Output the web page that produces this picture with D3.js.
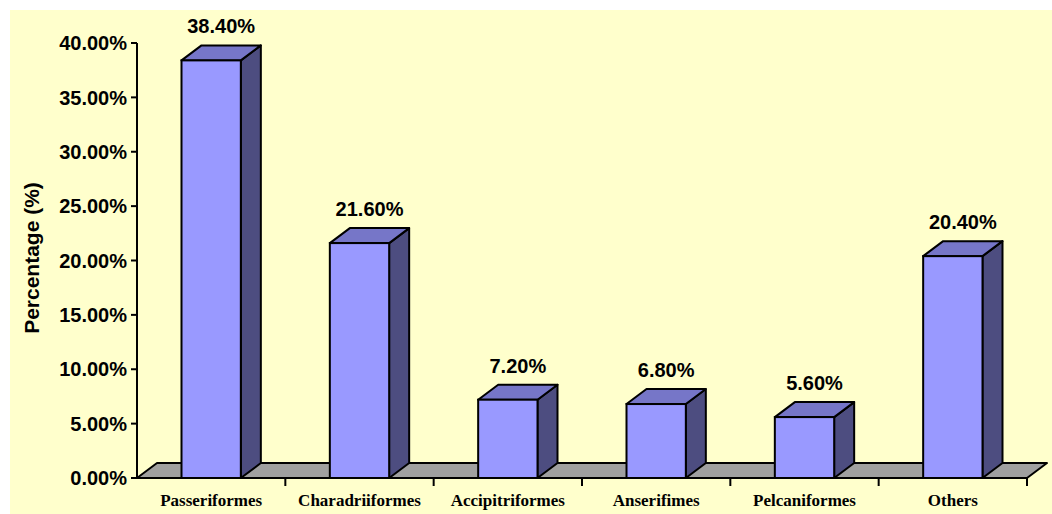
<!DOCTYPE html>
<html>
<head>
<meta charset="utf-8">
<script src="https://cdn.jsdelivr.net/npm/d3@7"></script>
<style>
  body { margin: 0; background: #fff; }
  .tick-label { font-family: Arial, "Liberation Sans", sans-serif; font-weight: bold; font-size: 20px; fill: #000; }
  .axis-title { font-family: Arial, "Liberation Sans", sans-serif; font-weight: bold; font-size: 21px; fill: #000; }
  .cat-label { font-family: "Times New Roman", "Liberation Serif", serif; font-weight: bold; font-size: 17px; fill: #000; }
</style>
</head>
<body>
<div id="chart"></div>
<script>
const categories = ["Passeriformes", "Charadriiformes", "Accipitriformes", "Anserifimes", "Pelcaniformes", "Others"];
const values = [38.4, 21.6, 7.2, 6.8, 5.6, 20.4];
const yTicks = [0, 5, 10, 15, 20, 25, 30, 35, 40];

const width = 1052, height = 514;
const plotLeft = 137, plotRight = 1027, plotBottom = 478, plotTop = 43;
const dx = 20, dy = -15; // 3d depth offset

const svg = d3.select("#chart").append("svg")
    .attr("width", width).attr("height", height);

svg.append("rect")
    .attr("x", 10).attr("y", 10)
    .attr("width", width - 10).attr("height", height - 10)
    .attr("fill", "#ffffcc");

const x = d3.scaleBand().domain(categories).range([plotLeft, plotRight])
    .paddingInner(0.6).paddingOuter(0.3);
const y = d3.scaleLinear().domain([0, 40]).range([plotBottom, plotTop]);
const step = x.step();

// floor
svg.append("path")
    .attr("d", `M${plotLeft},${plotBottom} L${plotRight},${plotBottom} L${plotRight + dx},${plotBottom + dy} L${plotLeft + dx},${plotBottom + dy} Z`)
    .attr("fill", "#a0a0a0").attr("stroke", "#000").attr("stroke-width", 2)
    .attr("stroke-linejoin", "round");

// y axis
const yAxis = svg.append("g");
yAxis.append("line")
    .attr("x1", plotLeft).attr("x2", plotLeft).attr("y1", plotTop).attr("y2", plotBottom)
    .attr("stroke", "#000").attr("stroke-width", 2);
yAxis.selectAll(".yt").data(yTicks).enter().append("line")
    .attr("x1", plotLeft - 6).attr("x2", plotLeft)
    .attr("y1", d => y(d)).attr("y2", d => y(d))
    .attr("stroke", "#000").attr("stroke-width", 2);
yAxis.selectAll(".tick-label").data(yTicks).enter().append("text")
    .attr("class", "tick-label")
    .attr("x", plotLeft - 10).attr("y", d => y(d)).attr("dy", "0.36em")
    .attr("text-anchor", "end")
    .text(d => d.toFixed(2) + "%");

svg.append("text")
    .attr("class", "axis-title")
    .attr("transform", "translate(39,258) rotate(-90)")
    .attr("text-anchor", "middle")
    .text("Percentage (%)");

// x axis ticks at category boundaries
svg.selectAll(".xt").data(d3.range(1, categories.length + 1)).enter().append("line")
    .attr("x1", i => plotLeft + i * step).attr("x2", i => plotLeft + i * step)
    .attr("y1", plotBottom).attr("y2", plotBottom + 8)
    .attr("stroke", "#000").attr("stroke-width", 2);
svg.append("line")
    .attr("x1", plotLeft).attr("x2", plotRight).attr("y1", plotBottom).attr("y2", plotBottom)
    .attr("stroke", "#000").attr("stroke-width", 2);

// bars
const bars = svg.selectAll(".bar").data(categories.map((c, i) => ({c, v: values[i]})))
    .enter().append("g").attr("class", "bar");
const bw = x.bandwidth();

bars.append("path") // side
    .attr("d", d => {
        const x1 = x(d.c) + bw, yt = y(d.v);
        return `M${x1},${plotBottom} L${x1},${yt} L${x1 + dx},${yt + dy} L${x1 + dx},${plotBottom + dy} Z`;
    })
    .attr("fill", "#4d4d80").attr("stroke", "#000").attr("stroke-width", 2).attr("stroke-linejoin", "round");
bars.append("path") // top
    .attr("d", d => {
        const x0 = x(d.c), x1 = x0 + bw, yt = y(d.v);
        return `M${x0},${yt} L${x0 + dx},${yt + dy} L${x1 + dx},${yt + dy} L${x1},${yt} Z`;
    })
    .attr("fill", "#7676c8").attr("stroke", "#000").attr("stroke-width", 2).attr("stroke-linejoin", "round");
bars.append("rect") // front
    .attr("x", d => x(d.c)).attr("y", d => y(d.v))
    .attr("width", bw).attr("height", d => plotBottom - y(d.v))
    .attr("fill", "#9999ff").attr("stroke", "#000").attr("stroke-width", 2);

bars.append("text")
    .attr("class", "tick-label")
    .attr("x", d => x(d.c) + bw / 2 + dx / 2)
    .attr("y", d => y(d.v) + dy - 12)
    .attr("text-anchor", "middle")
    .text(d => d.v.toFixed(2) + "%");

svg.selectAll(".cat-label").data(categories).enter().append("text")
    .attr("class", "cat-label")
    .attr("x", d => x(d) + bw / 2)
    .attr("y", 506)
    .attr("text-anchor", "middle")
    .text(d => d);
</script>
</body>
</html>
